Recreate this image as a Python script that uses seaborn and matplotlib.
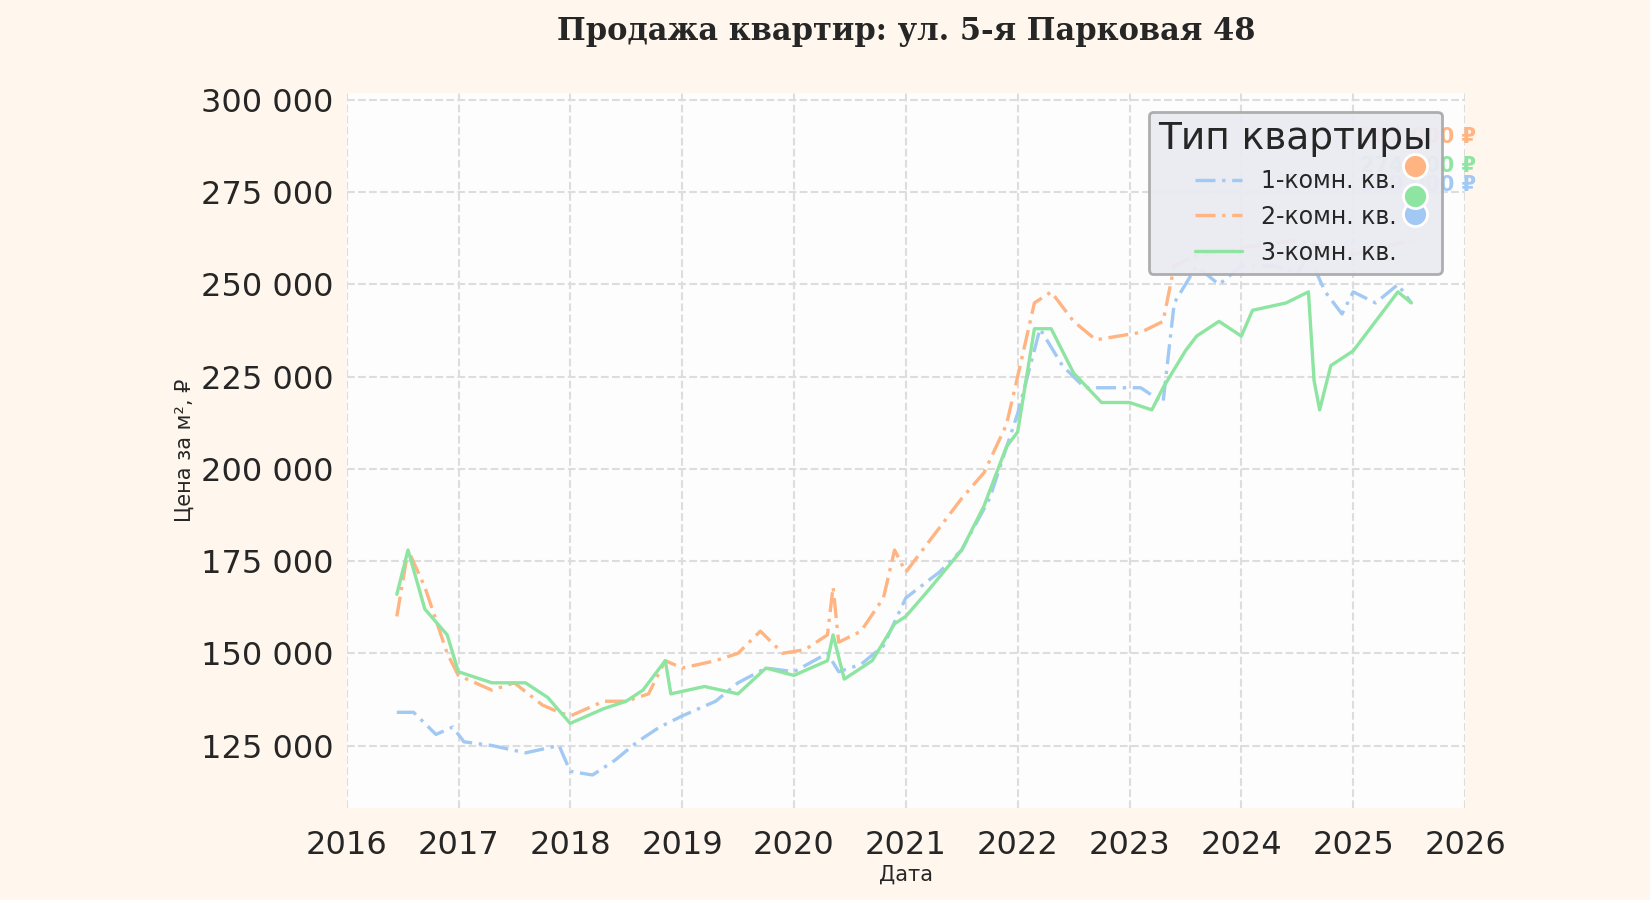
import numpy as np
import pandas as pd
import matplotlib
matplotlib.use('Agg')
import matplotlib.pyplot as plt
import seaborn as sns

# decimal year, price per m2
t1 = [2016.45, 2016.6, 2016.8, 2016.95, 2017.05, 2017.3, 2017.6, 2017.9, 2018.0, 2018.2, 2018.4, 2018.6, 2018.8,
      2019.0, 2019.3, 2019.5, 2019.75, 2020.0, 2020.3, 2020.4, 2020.6, 2020.8, 2021.0, 2021.3, 2021.5, 2021.75,
      2022.0, 2022.2, 2022.4, 2022.6, 2022.9, 2023.1, 2023.3, 2023.4, 2023.6, 2023.8, 2024.0, 2024.3, 2024.5,
      2024.6, 2024.75, 2024.9, 2025.0, 2025.2, 2025.4, 2025.52]
v1 = [134000, 134000, 128000, 130000, 126000, 125000, 123000, 125000, 118000, 117000, 121000, 126000, 130000,
      133000, 137000, 142000, 146000, 145000, 150000, 145000, 147000, 152000, 165000, 172000, 178000, 192000,
      215000, 238000, 228000, 222000, 222000, 222000, 218000, 245000, 255000, 250000, 255000, 255000, 253000,
      258000, 248000, 242000, 248000, 245000, 250000, 245000]

t2 = [2016.45, 2016.55, 2016.7, 2016.9, 2017.0, 2017.3, 2017.5, 2017.75, 2017.9, 2018.0, 2018.3, 2018.5, 2018.7,
      2018.85, 2019.0, 2019.3, 2019.5, 2019.7, 2019.9, 2020.1, 2020.3, 2020.35, 2020.4, 2020.6, 2020.8, 2020.9,
      2021.0, 2021.2, 2021.5, 2021.7, 2021.9, 2022.0, 2022.15, 2022.3, 2022.5, 2022.7, 2022.9, 2023.1, 2023.3,
      2023.4, 2023.6, 2024.0, 2024.5, 2025.0, 2025.52]
v2 = [160000, 178000, 168000, 150000, 144000, 140000, 142000, 136000, 134000, 133000, 137000, 137000, 139000,
      148000, 146000, 148000, 150000, 156000, 150000, 151000, 155000, 168000, 153000, 156000, 165000, 178000,
      172000, 180000, 192000, 199000, 212000, 225000, 245000, 248000, 240000, 235000, 236000, 237000, 240000,
      255000, 258000, 260000, 262000, 258000, 262000]

t3 = [2016.45, 2016.55, 2016.7, 2016.9, 2017.0, 2017.3, 2017.6, 2017.8, 2018.0, 2018.3, 2018.5, 2018.65, 2018.85,
      2018.9, 2019.2, 2019.5, 2019.75, 2020.0, 2020.3, 2020.35, 2020.45, 2020.7, 2020.9, 2021.0, 2021.2, 2021.5,
      2021.7, 2021.9, 2022.0, 2022.15, 2022.3, 2022.5, 2022.75, 2023.0, 2023.2, 2023.3, 2023.5, 2023.6, 2023.8,
      2024.0, 2024.1, 2024.4, 2024.6, 2024.65, 2024.7, 2024.8, 2025.0, 2025.2, 2025.4, 2025.52]
v3 = [166000, 178000, 162000, 155000, 145000, 142000, 142000, 138000, 131000, 135000, 137000, 140000, 148000,
      139000, 141000, 139000, 146000, 144000, 148000, 155000, 143000, 148000, 158000, 160000, 167000, 178000,
      190000, 206000, 210000, 238000, 238000, 226000, 218000, 218000, 216000, 222000, 232000, 236000, 240000,
      236000, 243000, 245000, 248000, 224000, 216000, 228000, 232000, 240000, 248000, 245000]

names = ['1-комн. кв.', '2-комн. кв.', '3-комн. кв.']
last_vals = [269000, 282000, 274000]

def to_date(y):
    return pd.Timestamp('2016-01-01') + pd.to_timedelta((y - 2016) * 365.25, unit='D')

frames = []
for n, t, v in zip(names, [t1, t2, t3], [v1, v2, v3]):
    frames.append(pd.DataFrame({'date': [to_date(x) for x in t], 'price': v, 'type': n}))
df = pd.concat(frames)

sns.set_theme(style='darkgrid')
plt.rcParams['font.family'] = ['DejaVu Sans']
pal = sns.color_palette('pastel')
colors = {names[0]: pal[0], names[1]: pal[1], names[2]: pal[2]}

fig, ax = plt.subplots(figsize=(16.5, 9), dpi=100)
fig.patch.set_facecolor('#fff7ee')
ax.set_facecolor('#fdfdfd')
styles = {names[0]: (0, (6, 2, 1, 2)), names[1]: (0, (6, 2, 1, 2)), names[2]: '-'}
for n in names:
    d = df[df['type'] == n]
    sns.lineplot(data=d, x='date', y='price', ax=ax, color=colors[n], linestyle=styles[n],
                 linewidth=2.4, label=n)

end = to_date(2025.55)
for n, lv in zip(names, last_vals):
    ax.text(to_date(2026.1), lv + 8000, f'{lv:,} ₽'.replace(',', ' '), color=colors[n],
            ha='right', va='center', fontsize=15, fontweight='bold', zorder=4)

ax.grid(True, color='#dddddd', linestyle='--', linewidth=1.5)
ax.set_xlim(to_date(2016.0), to_date(2026.0))
ax.set_ylim(108000, 302000)
ax.set_xticks([pd.Timestamp(f'{y}-01-01') for y in range(2016, 2027)])
ax.set_xticklabels([str(y) for y in range(2016, 2027)], fontsize=23)
ax.set_yticks(range(125000, 300001, 25000))
ax.set_yticklabels([f'{y:,}'.replace(',', ' ') for y in range(125000, 300001, 25000)], fontsize=23)
ax.tick_params(axis='x', pad=10)
ax.set_xlabel('Дата', fontsize=15, labelpad=2)
ax.set_ylabel('Цена за м², ₽', fontsize=15)
ax.set_title('Продажа квартир: ул. 5-я Парковая 48', fontsize=22, fontweight='bold',
             family='DejaVu Serif', pad=38)
leg = ax.legend(title='Тип квартиры', loc='upper right', fontsize=17, title_fontsize=27,
                frameon=True, facecolor='#eaeaf2', edgecolor='#aaaaaa', framealpha=0.95,
                bbox_to_anchor=(0.99, 0.99))
leg.get_frame().set_linewidth(2)
leg.set_zorder(10)
# end-point markers sit above the legend
for n, lv in zip(names, last_vals):
    ax.scatter([end], [lv], s=300, color=colors[n], edgecolor='white', linewidth=2, zorder=12,
               clip_on=False)
for s in ax.spines.values():
    s.set_visible(False)

plt.subplots_adjust(left=0.21, right=0.888, top=0.897, bottom=0.102)
plt.savefig('out.png', dpi=100, facecolor=fig.get_facecolor())
